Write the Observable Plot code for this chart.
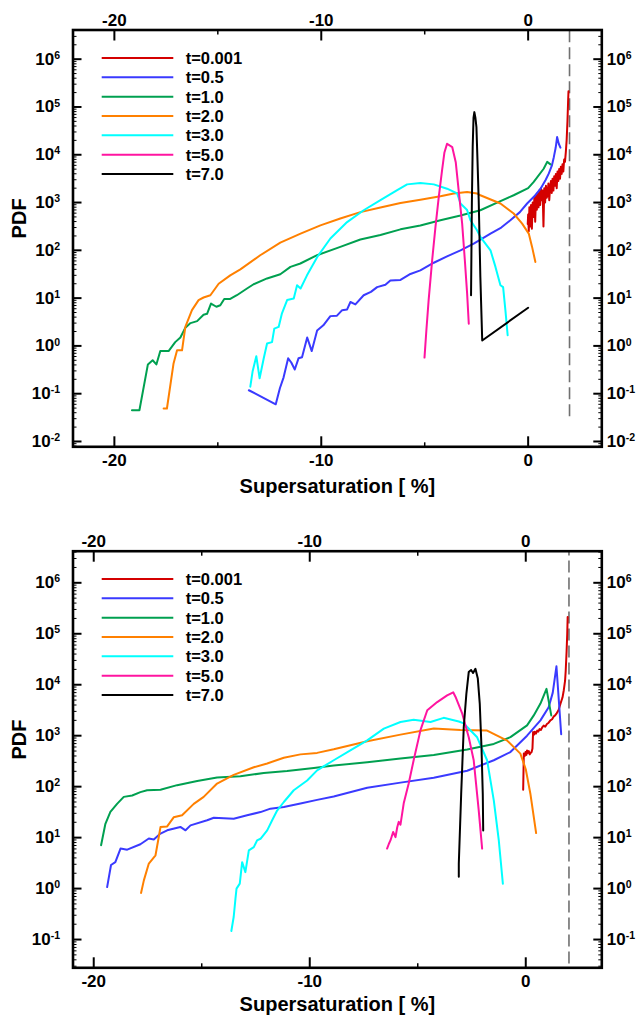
<!DOCTYPE html>
<html><head><meta charset="utf-8">
<script src="https://cdn.jsdelivr.net/npm/d3@7"></script>
<script src="https://cdn.jsdelivr.net/npm/@observablehq/plot@0.6"></script>
<style>
html,body{margin:0;padding:0;background:#fff;}
#chart{width:636px;}
#chart svg{display:block;}
</style></head><body><div id="chart"></div>
<script>
// ---------- series, ticks ----------
const seriesNames = ["t=0.001","t=0.5","t=1.0","t=2.0","t=3.0","t=5.0","t=7.0"];
const seriesColors = ["#d40000","#3a3aff","#00a050","#ff8000","#00ffff","#ff14a0","#000000"];
const xTicks = [-20,-10,0];
const xMinorTicks = [-15,-5];
const yTicksTop = [1e-2,1e-1,1e0,1e1,1e2,1e3,1e4,1e5,1e6];
const yTicksBottom = [1e-1,1e0,1e1,1e2,1e3,1e4,1e5,1e6];
const dashX = 2.0;
const dashBottom = 0.033;

// ---------- TOP panel: [supersaturation %, PDF] ----------
const top_t0001 = [[-0.02,355],[0.0,562],[0.03,251],[0.06,794],[0.1,316],[0.14,891],[0.18,282],[0.22,1000],[0.26,501],[0.3,1260],[0.34,398],[0.38,1410],[0.42,708],[0.46,1580],[0.5,794],[0.54,1780],[0.58,891],[0.62,2000],[0.66,1120],[0.7,1780],[0.74,316],[0.78,2000],[0.82,1000],[0.86,2240],[0.9,1260],[0.94,1580],[0.98,2510],[1.02,1120],[1.06,2000],[1.1,2820],[1.14,1580],[1.18,3160],[1.22,1780],[1.26,3550],[1.3,2240],[1.34,3980],[1.38,2000],[1.42,4470],[1.46,2820],[1.5,5010],[1.54,3160],[1.58,5620],[1.62,3980],[1.66,6310],[1.7,4470],[1.74,7940],[1.78,7080],[1.82,11200],[1.86,20000],[1.9,50100],[1.93,126000],[1.95,214000]];
const top_t05 = [[-13.5,0.118],[-12.2,0.06],[-12.0,0.13],[-11.82,0.22],[-11.6,0.55],[-11.45,0.45],[-11.28,0.32],[-11.1,0.55],[-10.93,0.58],[-10.68,1.5],[-10.46,0.78],[-10.2,2.1],[-9.9,2.7],[-9.56,4.2],[-9.24,4.3],[-8.99,5.6],[-8.75,5.8],[-8.59,8.3],[-8.35,7.4],[-7.95,11.5],[-7.6,13.5],[-7.3,17],[-6.9,19],[-6.66,23.5],[-6.17,24],[-5.69,32],[-5.21,38],[-4.56,55],[-3.92,75],[-3.27,100],[-2.63,138],[-1.82,224],[-1.3,300],[-0.86,427],[-0.4,630],[-0.05,955],[0.3,1350],[0.6,1950],[0.85,3000],[1.0,4070],[1.15,6000],[1.24,8900],[1.33,14000],[1.4,23400],[1.48,17000],[1.56,14100]];
const top_t10 = [[-19.15,0.045],[-18.79,0.045],[-18.38,0.41],[-18.15,0.5],[-17.97,0.41],[-17.78,0.78],[-17.38,0.78],[-17.06,1.2],[-16.81,1.5],[-16.57,2.4],[-16.32,3.0],[-16.0,3.3],[-15.69,4.5],[-15.52,4.7],[-15.33,7.7],[-15.07,6.6],[-14.88,7.1],[-14.69,9.6],[-14.4,9.6],[-14.08,11.5],[-13.59,15.9],[-13.27,19.5],[-12.62,25.8],[-11.98,31.6],[-11.49,45],[-11.01,53],[-10.2,79],[-9.08,118],[-8.11,169],[-7.14,209],[-6.17,275],[-5.21,331],[-4.24,427],[-3.27,537],[-2.31,690],[-1.5,1000],[-0.7,1420],[0.0,2000],[0.27,2700],[0.75,5100],[0.92,7100],[1.08,6300]];
const top_t20 = [[-17.62,0.049],[-17.46,0.049],[-17.14,0.43],[-16.97,0.81],[-16.73,0.81],[-16.57,2.5],[-16.25,5.6],[-15.93,9.1],[-15.69,10.3],[-15.36,11.5],[-14.96,20],[-14.4,30],[-13.91,40],[-12.95,79],[-11.98,145],[-11.0,224],[-10.04,333],[-9.08,465],[-8.11,630],[-7.14,790],[-6.17,980],[-5.21,1150],[-4.24,1350],[-3.6,1550],[-2.95,1660],[-2.47,1550],[-2.31,1420],[-1.34,955],[-0.7,590],[-0.29,363],[0.03,224],[0.19,118],[0.35,57]];
const top_t30 = [[-13.43,0.14],[-13.32,0.29],[-13.14,0.61],[-12.98,0.21],[-12.78,0.55],[-12.62,1.12],[-12.38,1.2],[-12.27,2.3],[-12.06,2.5],[-11.9,4.8],[-11.65,9.1],[-11.33,9.8],[-11.17,18.6],[-11.0,15.9],[-10.69,30],[-10.2,72],[-9.56,177],[-8.75,390],[-7.95,690],[-7.14,1120],[-6.33,1820],[-5.85,2400],[-5.21,2570],[-4.56,2400],[-3.92,1950],[-3.43,1550],[-3.27,955],[-2.95,700],[-2.79,427],[-2.47,263],[-2.31,191],[-1.82,100],[-1.58,45],[-1.34,18.6],[-1.21,17],[-1.1,5.6],[-0.99,1.67]];
const top_t50 = [[-5.01,0.57],[-4.92,2.1],[-4.81,9.1],[-4.64,62],[-4.48,309],[-4.32,1320],[-4.16,4790],[-4.05,11000],[-3.92,17000],[-3.78,15500],[-3.67,14500],[-3.5,7000],[-3.36,1820],[-3.19,363],[-3.06,62],[-2.95,12.6],[-2.87,2.9]];
const top_t70 = [[-2.76,11.5],[-2.72,1000],[-2.68,15000],[-2.64,60000],[-2.6,78000],[-2.55,60000],[-2.5,38000],[-2.45,8000],[-2.39,1120],[-2.31,27.5],[-2.22,1.3],[0.0,6.3]];

// ---------- BOTTOM panel ----------
const bot_t0001 = [[-0.12,87],[-0.09,445],[-0.05,400],[-0.01,480],[0.03,420],[0.06,513],[0.1,460],[0.14,500],[0.18,430],[0.22,457],[0.27,480],[0.31,560],[0.34,1180],[0.38,1050],[0.42,1200],[0.47,1100],[0.53,1260],[0.58,1200],[0.64,1350],[0.7,1300],[0.76,1450],[0.83,1580],[0.9,1500],[0.98,1700],[1.06,1800],[1.14,2000],[1.22,2100],[1.3,2400],[1.36,2500],[1.42,2700],[1.52,3200],[1.61,4270],[1.7,5600],[1.76,7800],[1.82,12000],[1.85,19000],[1.89,45000],[1.92,100000],[1.94,214000]];
const bot_t05 = [[-19.38,1.07],[-19.2,2.9],[-19.0,3.3],[-18.76,6.1],[-18.45,5.8],[-17.84,7.4],[-17.45,9.6],[-17.22,9.2],[-16.91,12],[-16.6,13.9],[-15.99,16.2],[-15.75,13.9],[-15.52,17.4],[-14.75,21.9],[-14.44,24.6],[-13.52,23.4],[-12.9,27.5],[-12.28,31.7],[-11.82,37],[-11.2,40],[-10.43,46.5],[-9.66,55],[-8.89,64],[-7.34,95],[-5.8,120],[-4.26,150],[-2.71,205],[-1.48,330],[-0.71,478],[0.06,1000],[0.68,2000],[1.06,3630],[1.25,7000],[1.42,23000],[1.64,1070]];
const bot_t10 = [[-19.66,7.1],[-19.46,18.7],[-19.23,32],[-18.92,46],[-18.61,63],[-18.22,67],[-17.84,78],[-17.53,85],[-16.91,87],[-16.14,107],[-15.21,129],[-14.29,151],[-13.21,160],[-12.13,185],[-11.05,203],[-9.81,233],[-8.89,260],[-7.34,300],[-5.8,355],[-4.26,420],[-2.71,535],[-1.48,690],[-0.71,935],[0.06,1590],[0.37,2500],[0.68,4270],[0.96,8300],[1.18,2500]];
const bot_t20 = [[-17.81,0.82],[-17.68,1.45],[-17.45,3.1],[-17.14,4.5],[-16.99,10.3],[-16.91,16.1],[-16.6,16.6],[-16.3,25],[-15.91,27.5],[-15.37,46],[-14.91,63],[-14.29,115],[-13.52,170],[-12.59,240],[-11.97,285],[-11.2,370],[-10.43,430],[-9.66,460],[-8.89,540],[-7.34,780],[-5.8,1050],[-4.26,1380],[-3.02,1300],[-1.79,1260],[-0.86,800],[-0.25,445],[0.0,220],[0.22,70],[0.48,12.3]];
const bot_t30 = [[-13.63,0.147],[-13.52,0.28],[-13.44,0.63],[-13.39,1.0],[-13.24,1.25],[-13.13,3.3],[-12.98,2.1],[-12.82,5.6],[-12.59,6.5],[-12.44,8.8],[-12.28,9.5],[-11.97,13.9],[-11.74,21.9],[-11.51,34],[-11.2,50],[-10.74,85],[-10.12,132],[-9.66,209],[-8.89,330],[-8.12,515],[-7.34,810],[-6.57,1380],[-5.8,1860],[-5.19,2050],[-4.41,1860],[-3.8,2240],[-3.1,1900],[-2.87,1740],[-2.25,930],[-1.79,330],[-1.48,54],[-1.25,8.9],[-1.06,1.25]];
const bot_t50 = [[-6.42,6.1],[-6.34,7.5],[-6.26,8.9],[-6.14,12.9],[-6.03,10.2],[-5.95,16],[-5.88,20.4],[-5.8,18],[-5.65,47],[-5.42,115],[-5.19,330],[-4.87,1300],[-4.56,3150],[-4.1,4570],[-3.64,6170],[-3.36,7100],[-3.25,5750],[-2.94,2700],[-2.64,930],[-2.41,330],[-2.18,35],[-2.02,6.1]];
const bot_t70 = [[-3.1,1.7],[-3.1,3.1],[-2.99,72],[-2.87,1480],[-2.75,6600],[-2.64,17700],[-2.53,19500],[-2.44,17000],[-2.33,20500],[-2.22,13200],[-2.13,4270],[-2.05,600],[-1.99,72],[-1.97,13.8]];

const topSeries = [top_t0001, top_t05, top_t10, top_t20, top_t30, top_t50, top_t70];
const botSeries = [bot_t0001, bot_t05, bot_t10, bot_t20, bot_t30, bot_t50, bot_t70];

const FONT = "'Liberation Sans', Arial, sans-serif";

function minorLog([lo, hi]) {
  const out = [];
  for (let e = Math.floor(Math.log10(lo)); e <= Math.ceil(Math.log10(hi)); e++)
    for (let m = 2; m <= 9; m++) { const v = m * Math.pow(10, e); if (v >= lo && v <= hi) out.push(v); }
  return out;
}

function panel(cfg) {
  const expFmt = d => "10^" + Math.round(Math.log10(d));
  const ax = {label: null, fontSize: 17, fontWeight: "bold"};
  const lines = cfg.series.map((s, i) =>
    Plot.line(s.map(([x, y]) => ({x, y})), {x: "x", y: "y", stroke: seriesColors[i], strokeWidth: 2}));
  const svg = Plot.plot({
    width: 636, height: cfg.height,
    marginLeft: 72.5, marginRight: 34.7, marginTop: cfg.marginTop, marginBottom: cfg.marginBottom,
    style: {fontFamily: FONT, fontSize: "17px", fontWeight: "bold", color: "#000", background: "#fff"},
    x: {domain: cfg.xDomain, label: null},
    y: {type: "log", domain: cfg.yDomain, label: null},
    marks: [
      Plot.ruleX([dashX], {x: d => d, y1: dashBottom, y2: cfg.yDomain[1], stroke: "#707070", strokeWidth: 1.6, strokeDasharray: "12,5"}),
      ...lines,
      // tick labels
      Plot.axisX({...ax, anchor: "top", ticks: xTicks, tickSize: 0, tickPadding: 4, tickFormat: d => String(d)}),
      Plot.axisX({...ax, anchor: "bottom", ticks: xTicks, tickSize: 0, tickPadding: 7, tickFormat: d => String(d)}),
      Plot.axisY({...ax, anchor: "left", ticks: cfg.yTicks, tickSize: 0, tickPadding: 13, tickFormat: expFmt}),
      Plot.axisY({...ax, anchor: "right", ticks: cfg.yTicks, tickSize: 0, tickPadding: 5, tickFormat: expFmt}),
      // inward major/minor ticks
      Plot.axisX({label: null, anchor: "top", ticks: xTicks, tickSize: 10, dy: 10, strokeWidth: 2, fill: "none"}),
      Plot.axisX({label: null, anchor: "bottom", ticks: xTicks, tickSize: 10, dy: -10, strokeWidth: 2, fill: "none"}),
      Plot.axisX({label: null, anchor: "top", ticks: xMinorTicks, tickSize: 4, dy: 4, strokeWidth: 1.5, fill: "none"}),
      Plot.axisX({label: null, anchor: "bottom", ticks: xMinorTicks, tickSize: 4, dy: -4, strokeWidth: 1.5, fill: "none"}),
      Plot.axisY({label: null, anchor: "left", ticks: cfg.yTicks, tickSize: 9, dx: 9, strokeWidth: 2, fill: "none"}),
      Plot.axisY({label: null, anchor: "right", ticks: cfg.yTicks, tickSize: 9, dx: -9, strokeWidth: 2, fill: "none"}),
      Plot.axisY({label: null, anchor: "left", ticks: minorLog(cfg.yDomain), tickSize: 4, dx: 4, strokeWidth: 1, fill: "none"}),
      Plot.axisY({label: null, anchor: "right", ticks: minorLog(cfg.yDomain), tickSize: 4, dx: -4, strokeWidth: 1, fill: "none"}),
      Plot.frame({stroke: "#000", strokeWidth: 2.6}),
      Plot.text(["Supersaturation [ %]"], {text: d => d, frameAnchor: "bottom", dy: cfg.xLabelDy, fontSize: 20, fontWeight: "bold"}),
      Plot.text(["PDF"], {text: d => d, frameAnchor: "left", dx: -53, rotate: -90, fontSize: 20, fontWeight: "bold"})
    ]
  });
  // superscript exponents
  d3.select(svg).selectAll("text").each(function() {
    const m = /^10\^(-?\d+)$/.exec(this.textContent);
    if (m) {
      const el = d3.select(this);
      el.text(null);
      el.append("tspan").text("10");
      el.append("tspan").attr("dy", "-0.55em").attr("font-size", "0.62em").text(m[1]);
    }
  });
  // legend
  const lg = d3.select(svg).append("g").attr("font-family", FONT).attr("font-size", 16.5)
    .attr("font-weight", "bold").attr("text-anchor", "start");
  seriesNames.forEach((name, i) => {
    const y = cfg.legendTop + i * 19.33;
    lg.append("line").attr("x1", 101.7).attr("x2", 173.3).attr("y1", y).attr("y2", y)
      .attr("stroke", seriesColors[i]).attr("stroke-width", 2);
    lg.append("text").attr("x", 185.7).attr("y", y).attr("dy", "0.36em").attr("fill", "#000")
      .attr("text-anchor", "start").text(name);
  });
  return svg;
}

const chart = document.getElementById("chart");
chart.appendChild(panel({
  height: 520, marginTop: 29.5, marginBottom: 73.7,
  xDomain: [-22.0, 3.56], yDomain: [0.00774, 4.08e6], yTicks: yTicksTop,
  series: topSeries, legendTop: 58, xLabelDy: 46
}));
chart.appendChild(panel({
  height: 501, marginTop: 30.7, marginBottom: 53.7,
  xDomain: [-20.96, 3.52], yDomain: [0.0279, 4.17e6], yTicks: yTicksBottom,
  series: botSeries, legendTop: 59, xLabelDy: 43
}));
</script></body></html>
